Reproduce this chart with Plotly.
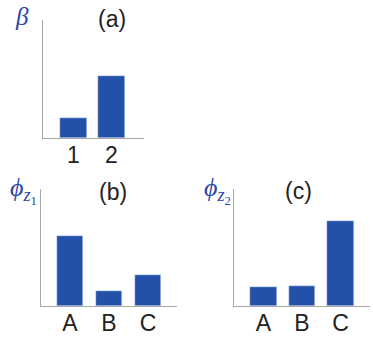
import plotly.graph_objects as go

cats_a = ["1", "2"]
beta = [0.17, 0.525]
cats_bc = ["A", "B", "C"]
phi_z1 = [0.60, 0.13, 0.265]
phi_z2 = [0.16, 0.17, 0.73]

W, H = 373, 342
bar_color = "#2350a8"
axis_color = "#a8a8a8"
label_blue = "#2b47a8"
font = dict(family="Liberation Sans, Arial, sans-serif", size=23, color="#222222")

fig = go.Figure()
fig.add_trace(go.Bar(x=cats_a, y=beta, marker_color=bar_color, width=0.71,
                     xaxis="x", yaxis="y", showlegend=False))
fig.add_trace(go.Bar(x=cats_bc, y=phi_z1, marker_color=bar_color, width=0.69,
                     xaxis="x2", yaxis="y2", showlegend=False))
fig.add_trace(go.Bar(x=cats_bc, y=phi_z2, marker_color=bar_color, width=0.70,
                     xaxis="x3", yaxis="y3", showlegend=False))

def xa(dom, rng, anchor):
    return dict(domain=dom, range=rng, anchor=anchor, showline=True, linecolor=axis_color,
                linewidth=1, showgrid=False, zeroline=False, ticks="", ticklen=0,
                ticklabelstandoff=-4, tickfont=font, fixedrange=True)

def ya(dom, anchor):
    return dict(domain=dom, range=[0, 1], anchor=anchor, showline=True, linecolor=axis_color,
                linewidth=1, showgrid=False, zeroline=False, showticklabels=False, fixedrange=True)

fig.update_layout(
    width=W, height=H, margin=dict(l=0, r=0, t=0, b=0),
    paper_bgcolor="white", plot_bgcolor="white", font=font, bargap=0,
    xaxis=xa([43 / W, 144 / W], [-0.803, 1.855], "y"),
    yaxis=ya([1 - 138 / H, 1 - 20 / H], "x"),
    xaxis2=xa([41 / W, 177 / W], [-0.744, 2.744], "y2"),
    yaxis2=ya([1 - 306 / H, 1 - 189 / H], "x2"),
    xaxis3=xa([234 / W, 370 / W], [-0.766, 2.766], "y3"),
    yaxis3=ya([1 - 306 / H, 1 - 189 / H], "x3"),
)

def ann(text, x, y, size=23, color="#222222", family="Liberation Sans, Arial, sans-serif"):
    fig.add_annotation(text=text, x=x / W, y=1 - y / H, xref="paper", yref="paper",
                       showarrow=False, xanchor="center", yanchor="middle",
                       font=dict(size=size, color=color, family=family))

ann("(a)", 112, 19)
ann("(b)", 113, 192)
ann("(c)", 298, 191)
serif = "Liberation Serif, Times New Roman, serif"
ann("<i>β</i>", 22, 16, size=25, color=label_blue, family=serif)
ann("<i>ϕ</i><sub><i>z</i><sub>1</sub></sub>", 23, 190, size=26, color=label_blue, family=serif)
ann("<i>ϕ</i><sub><i>z</i><sub>2</sub></sub>", 217, 190, size=26, color=label_blue, family=serif)

fig.write_html("out.html")
